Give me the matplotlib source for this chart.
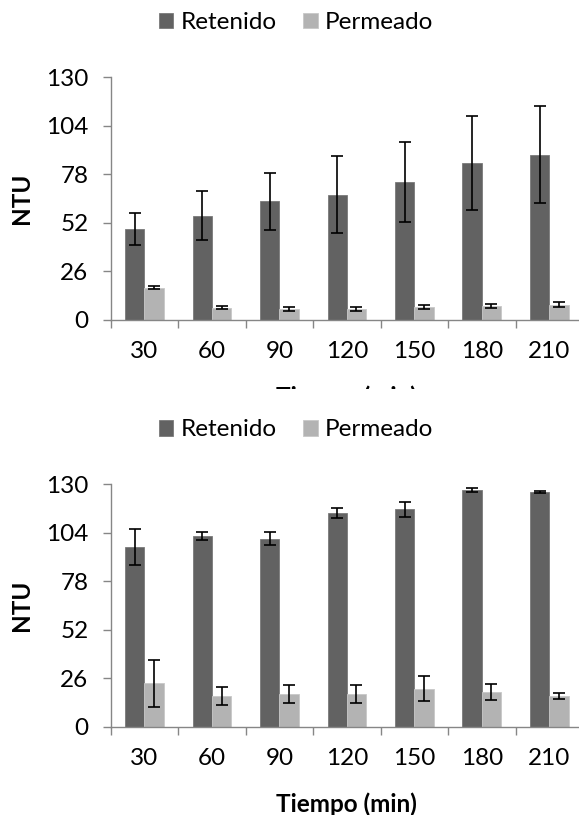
import matplotlib
matplotlib.use('Agg')
import matplotlib.pyplot as plt
from matplotlib.patches import Rectangle
import numpy as np

plt.rcParams['font.family'] = ['Lato', 'DejaVu Sans']

# tiempo de muestreo (min)
tiempos = ['30', '60', '90', '120', '150', '180', '210']

# grafico superior
ret_1 = [48.6, 55.8, 63.5, 67.1, 73.8, 84.0, 88.5]
ret_1_err = [8.4, 13.1, 15.4, 20.6, 21.6, 25.3, 26.1]
per_1 = [17.2, 6.4, 5.7, 5.7, 6.6, 7.3, 8.0]
per_1_err = [1.0, 0.9, 1.1, 1.0, 1.1, 1.2, 1.25]

# grafico inferior
ret_2 = [96.1, 102.1, 100.7, 114.6, 116.4, 126.9, 125.7]
ret_2_err = [9.7, 2.3, 3.6, 2.75, 4.2, 1.2, 0.3]
per_2 = [23.2, 16.3, 17.5, 17.5, 20.2, 18.6, 16.4]
per_2_err = [12.4, 4.8, 4.9, 4.9, 6.7, 4.45, 1.4]

yticks = [0, 26, 52, 78, 104, 130]

c_ret = '#626262'
c_per = '#b3b3b3'
c_axis = '#868686'
fs = 17.5

W, H = 579, 815
fig = plt.figure(figsize=(W / 100, H / 100), dpi=100)


def panel(rect, ret, ret_err, per, per_err, leg_y, z):
    ax = fig.add_axes(rect)
    ax.set_zorder(z)
    ax.patch.set_alpha(0)
    x = np.arange(len(tiempos))
    w = 0.286
    ekw = dict(ecolor='black', elinewidth=1.2, capthick=1.2)
    ax.bar(x - w / 2, ret, w, yerr=ret_err, color=c_ret, edgecolor='#7a7a7a',
           linewidth=0.6, capsize=4.5, error_kw=ekw, label='Retenido')
    ax.bar(x + w / 2, per, w, yerr=per_err, color=c_per, edgecolor='#c8c8c8',
           linewidth=0.6, capsize=4.5, error_kw=ekw, label='Permeado')
    ax.set_xlim(-0.5, len(tiempos) - 0.5)
    ax.set_ylim(0, 130)
    ax.set_yticks(yticks)
    ax.set_xticks(np.arange(len(tiempos) + 1) - 0.5)
    ax.set_xticklabels([])
    ax.set_xticks(x, minor=True)
    ax.set_xticklabels(tiempos, minor=True)
    ax.tick_params(axis='x', which='major', length=6, width=1, color=c_axis)
    ax.tick_params(axis='x', which='minor', length=0, pad=15, labelsize=fs)
    ax.tick_params(axis='y', length=6, width=1, color=c_axis, pad=10, labelsize=fs)
    for s in ['top', 'right']:
        ax.spines[s].set_visible(False)
    for s in ['left', 'bottom']:
        ax.spines[s].set_color(c_axis)
        ax.spines[s].set_linewidth(1)
    ax.set_ylabel('NTU', fontsize=fs, fontweight='bold')
    ax.set_xlabel('Tiempo (min)', fontsize=fs, fontweight='bold', labelpad=17)
    ax.yaxis.set_label_coords((33 / W - rect[0]) / rect[2], 0.5)
    ax.legend(loc='center', bbox_to_anchor=(296 / W, leg_y),
              bbox_transform=fig.transFigure, ncol=2, frameon=False,
              fontsize=fs, handlelength=0.6, handleheight=0.6,
              handletextpad=0.3, columnspacing=1.1)
    return ax


ax1 = panel([110.7 / W, 1 - 319.7 / H, 472.3 / W, 242.4 / H],
            ret_1, ret_1_err, per_1, per_1_err, 1 - 22.7 / H, 0)

# la segunda imagen tapa el titulo del eje x de la primera
fig.add_artist(Rectangle((0, 0), 1, 1 - 389 / H, transform=fig.transFigure,
                         facecolor='white', edgecolor='none', zorder=1))

ax2 = panel([110.7 / W, 1 - 726.7 / H, 472.3 / W, 242.7 / H],
            ret_2, ret_2_err, per_2, per_2_err, 1 - 430 / H, 2)

fig.savefig('out.png', dpi=100)
